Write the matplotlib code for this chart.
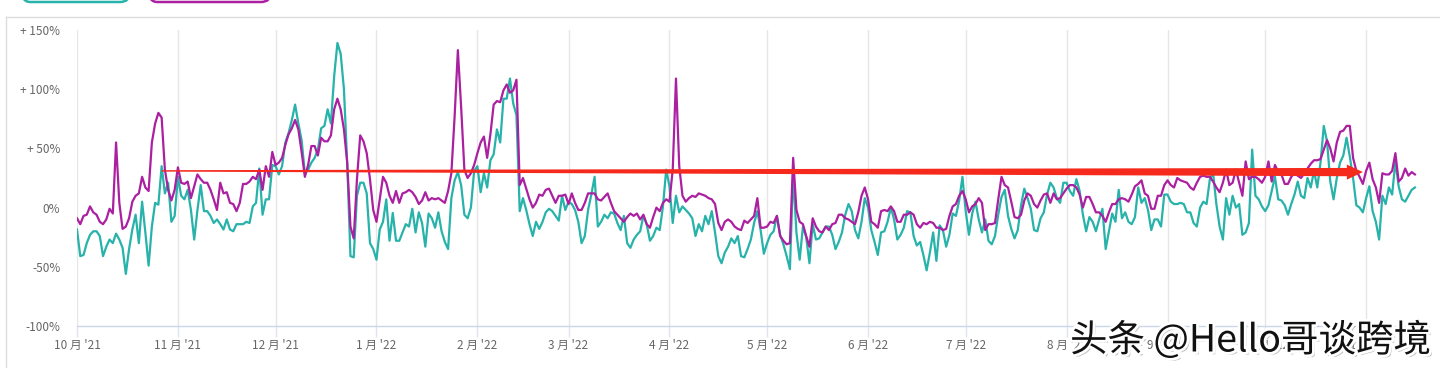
import numpy as np
import pandas as pd
import matplotlib
matplotlib.use('Agg')
import matplotlib.pyplot as plt
import matplotlib.dates as mdates
from matplotlib.patches import Polygon, FancyBboxPatch
from matplotlib.lines import Line2D
import matplotlib.patheffects as pe

plt.rcParams['font.family'] = ['Noto Sans CJK SC', 'DejaVu Sans']

# ---------------- data ----------------
start_date = '2021-10-01'

teal_values = [
    -18.5, -41, -40, -30, -23, -20, -20, -24, -41, -33,
    -27, -30, -22, -27, -34, -56, -35, -18.5, -6, -30,
    5, -21, -49, -16, 4, 2.5, 35, 12, 21, -12,
    -7, 26, 10, 7, 15, -2, -27, -2, 19, -3,
    -3, -7, -13, -10, -14, -18.5, -10, -18.5, -20, -14,
    -14, -14, -12, -13, 1, 4, 33, -6, 7, 7,
    36, 35, 28, 35, 55, 63, 74, 87, 71, 57,
    29, 32, 38, 42, 49, 67, 69, 83, 71, 111,
    139, 130, 100, 38, -41, -42, 10, 21, 21, 12,
    -30, -35, -44, -18.5, -12, 7, -28, -4.5, -28, -28,
    -21, -14, -16,
    -1, -21, -4, -13, -33, -5, -9, -17, -4, -20,
    -29, -35, 8, 23, 30, 19, -6, -9, 0, 31,
    35, 13, 29, 17, 40, 45, 66, 55, 92, 92,
    109, 88, 78, -3, 8, -2, -14, -24, -12, -18,
    -12, -4, -1, -3, -7, -11, 10, -2, 5, 3,
    -2, -12, -30, -24, -2, 11, 26, -16, -12, -6,
    -9, -4, -5, -13, -19, -7, -30, -34, -27, -23,
    -20, -7, -14, -28, -24, -17, -19, 1, 32, 18,
    -13, 10, -4, 1, -2, -5, -9, -24, -14, -20,
    -7, -14, -3, -21, -41, -47, -38, -33, -26, -30,
    -24,
    -41, -42, -35, -27, -13, -3, -19, -39, -30, -23,
    -20, -7, -23, -31, -41, -52, 29, -21, -44, -16,
    -25, -47, -14, -27, -26, -21, -16, -16, -23, -35,
    -29, -21, -6, 3, -3, -19, -26, -12, 8, 0,
    -19, -29, -40, -21, -20, -12, 0, -10, -27, -23,
    -17, -3, -4, -24, -32, -29, -40, -53, -38, -21,
    -45, -15, -19, -33, -23, -5, -7, 6, 26, -3,
    -23, -5, 5, -10, -21, -10, -28, -31, -24, -6,
    9, 15, -7, -18, -26, -19, 2, 16, 8, -1,
    -19, -20, -9, -4, 11, 21, 17, 8, 4, 21,
    21,
    14, 10, 24, 14, -6, -20, -8, -12, -20, -10,
    -1, -35, -20, -5, -12, 15, -9, -4, -12, -14,
    -8, 17, 4, 8, -2, -19, -10, -10, -16, 11,
    11, 5, 3, 3, 4, 3, -4, -4, -13, -16,
    0, 5, 3, 24, 29, 3, -16, -27, 8, -6,
    10, 0, 3, -23, -21, -13, 49, 10, 7, 1,
    -3, 2, 14, 26, 7, 6, 2, -6, 3, 11,
    22, 10, 8, 25, 17, 31, 17, 38, 69, 56,
    22, 7, 25, 38, 44, 59, 43, 25, 2, 0,
    -4, 8, 18, -3, -12, -27, 10, 3, 17, 11,
    39, 18, 7, 5, 10, 15, 17,
]

magenta_values = [
    -9, -14, -7, -6, 1, -4, -6, -12, -14, -10,
    -1, -5, 55, 4, -18, -16, -9, 5, 10, 12,
    26, 17, 14, 55, 71, 80, 76, 32, 15, 6,
    15, 34, 21, 20, 22, 8, 18, 28, 24, 21,
    21, 15, 7, -2, 21, 12, 13, 4, 3, -3,
    4, 20, 20, 22, 26, 24, 32, 15, 35, 26,
    47, 36, 38, 42, 53, 62, 67, 74, 66, 47,
    26, 36, 52, 52, 44, 59, 56, 56, 61, 83,
    92, 83, 66, 38, -16, -26, 24, 61, 56, 46,
    24, -2, -12, 7, 26, 21, 10, 4, 14, 4,
    12, 13, 15,
    13, 9, 3, 6, 13, 6, 8, 7, 8, 6,
    4, 14, 29, 77, 133, 85, 32, 25, 29, 36,
    46, 55, 60, 42, 62, 87, 90, 89, 99, 104,
    97, 99, 108, 19, 25, 16, 7, 0, 4, 11,
    10, 15, 16, 10, 4, 10, 10, 11, 3, 12,
    4, -2, -2, 4, 12, 12, 12, 7, 6, 9,
    12, 4, -3, -6, -9, -12, -8, -5, -7, -5,
    -10, -6, -14, -17, -8, 0, -3, 4, 7, 5,
    32, 109, 35, 10, 5, 8, 10, 9, 12, 11,
    10, 8, 7, 3, -13, -19, -12, -10, -12, -16,
    -18,
    -19, -11, -13, -10, -7, 8, -17, -17, -16, -12,
    -13, -7, -24, -28, -31, -30, 42, -2, -12, -14,
    -24, -33, -9, -16, -20, -21, -16, -19, -14, -13,
    -6, -6, -9, -10, -12, -14, -4, 10, 17, 7,
    -12, -14, -17, -3, -2, -3, 1, -3, -12, -12,
    -6, -6, -4, -6, -14, -17, -13, -14, -12, -13,
    -17, -17, -19, -18, -7, 1, 3, 10, 14, 7,
    -4, 1, 3, 8, 4, -19, -14, -14, -13, 7,
    26, 19, 17, 5, -8, -9, -6, 6, 12, 10,
    3, 0, 6, 11, 12, 4, 12, 7, 8, 12,
    16,
    19, 19, 17, 11, 0, 9, 9, 3, -4, -4,
    -7, -12, -4, 3, 3, 7, 8, 7, 5, 11,
    18, 20, 23, 12, 10, -1, -1, 10, 10, 19,
    23, 19, 17, 25, 23, 22, 21, 17, 15, 21,
    26, 27, 26, 26, 22, 17, 13, 21, 32, 19,
    21, 32, 21, 10, 39, 24, 26, 26, 24, 21,
    26, 39, 22, 36, 30, 28, 20, 20, 26, 29,
    27, 25, 29, 33, 37, 40, 40, 41, 49, 57,
    50, 39, 55, 64, 65, 69, 69, 42, 31, 26,
    20, 31, 38, 24, 17, 4, 29, 28, 28, 31,
    46, 22, 25, 33, 27, 30, 28,
]

month_labels = ["10 月 '21", "11 月 '21", "12 月 '21", "1 月 '22", "2 月 '22",
                "3 月 '22", "4 月 '22", "5 月 '22", "6 月 '22", "7 月 '22",
                "8 月 '22", "9 月 '22", "10 月 '22", "11 月 '22"]
y_ticks = [-100, -50, 0, 50, 100, 150]
y_labels = ['-100%', '-50%', '0%', '+ 50%', '+ 100%', '+ 150%']

arrow_start_date = '2021-10-27'
arrow_end_date = '2022-10-31'
arrow_level_start = 31
arrow_level_end = 30

watermark = '头条 @Hello哥谈跨境'

# ---------------- figure ----------------
TEAL = '#27b2aa'
MAGENTA = '#ab1fa1'
W, H = 1440, 368
fig = plt.figure(figsize=(W / 100, H / 100), dpi=100)
fig.patch.set_facecolor('white')

ax = fig.add_axes([77 / W, 1 - 326 / H, (1426 - 77) / W, 296 / H])

dates = pd.date_range(start_date, periods=len(teal_values), freq='D')
ax.plot(dates, teal_values, color=TEAL, lw=1.6, zorder=3, solid_joinstyle='round')
ax.plot(dates, magenta_values, color=MAGENTA, lw=1.6, zorder=4, solid_joinstyle='round')

t0 = pd.Timestamp(start_date)
ax.set_xlim(t0, t0 + pd.Timedelta(days=414.4))
ax.set_ylim(-100, 150)

month_ticks = pd.date_range(start_date, periods=len(month_labels), freq='MS')
ax.set_xticks(month_ticks)
ax.set_xticklabels(month_labels)
ax.set_yticks(y_ticks)
ax.set_yticklabels(y_labels)

ax.xaxis.grid(True, color='#e6e6e6', lw=1)
ax.yaxis.grid(False)
ax.set_axisbelow(True)
for s in ['left', 'right', 'top']:
    ax.spines[s].set_visible(False)
ax.spines['bottom'].set_color('#ccd6eb')
ax.spines['bottom'].set_linewidth(1)
ax.tick_params(axis='x', length=8, color='#e0e4ec', width=1, pad=1,
               labelsize=8.5, labelcolor='#666666')
ax.tick_params(axis='y', length=0, pad=12, labelsize=8.5, labelcolor='#666666')

# red arrow annotation
x0 = mdates.date2num(pd.Timestamp(arrow_start_date))
x1 = mdates.date2num(pd.Timestamp(arrow_end_date))
xh = x1 - 4.9
ys, ye = arrow_level_start, arrow_level_end
pts = [(x0, ys + 0.6), (xh, ye + 3.5), (xh, ye + 6.4), (x1, ye),
       (xh, ye - 6.4), (xh, ye - 3.5), (x0, ys - 0.6)]
ax.add_patch(Polygon(pts, closed=True, facecolor='#f5291c', edgecolor='none',
                     zorder=6, transform=ax.transData))

# outer frame lines
fig.add_artist(Line2D([5.5 / W, 5.5 / W], [0, 1 - 16.5 / H], transform=fig.transFigure,
                      color='#dcdcdc', lw=1))
fig.add_artist(Line2D([5.5 / W, 1], [1 - 16.5 / H, 1 - 16.5 / H], transform=fig.transFigure,
                      color='#dcdcdc', lw=1))

# legend pills (cut off at top)
for x, w, c in [(20, 110, TEAL), (147, 124, MAGENTA)]:
    p = FancyBboxPatch((x, H - 2), w, 30, boxstyle='round,pad=0,rounding_size=10',
                       facecolor='none', edgecolor=c, lw=1.8, transform=None)
    fig.add_artist(p)

# watermark
fig.text(1070 / W, 1 - 341 / H, watermark, fontsize=27, color='#111111',
         ha='left', va='center', zorder=20,
         path_effects=[pe.withSimplePatchShadow(offset=(2, -2), shadow_rgbFace='#888888', alpha=0.5),
                       pe.withStroke(linewidth=4, foreground='white')])

fig.savefig('out.png', dpi=100, facecolor='white')
